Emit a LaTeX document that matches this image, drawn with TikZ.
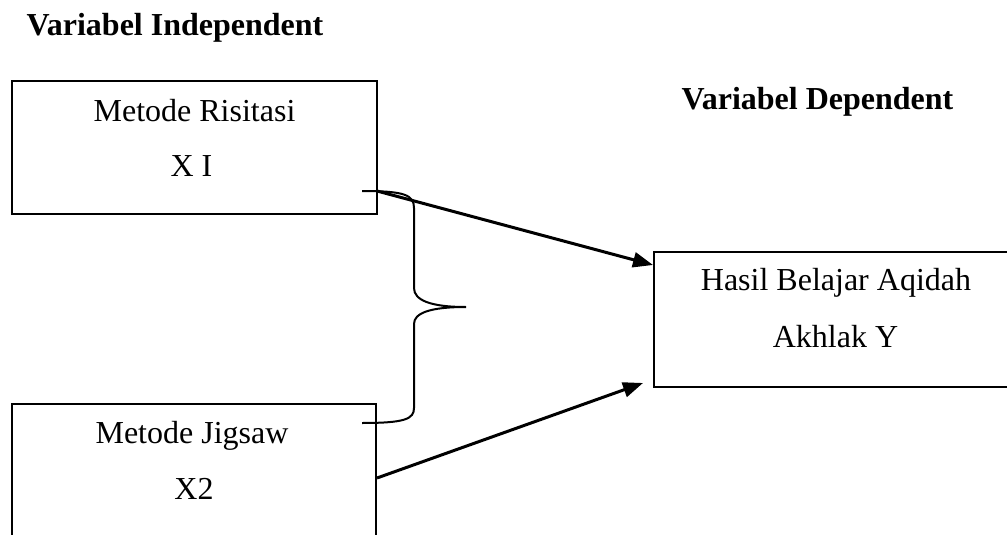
\documentclass[tikz,border=0pt]{standalone}
\usepackage{fontspec}
\setmainfont{Liberation Serif}
\usetikzlibrary{arrows.meta}
\begin{document}
\begin{tikzpicture}[x=1pt,y=-1pt,
  boxstyle/.style={draw=black,line width=2pt,rectangle,inner sep=0pt},
  txt/.style={anchor=base,inner sep=0pt,font=\fontsize{32}{38}\selectfont},
  ttl/.style={anchor=base,inner sep=0pt,font=\fontsize{32}{38}\selectfont\bfseries},
  arr/.style={line width=3pt,-{Triangle[length=20pt,width=15pt]}},
  bracestyle/.style={line width=2pt}]
\useasboundingbox (0,0) rectangle (1007,535);
\clip (0,0) rectangle (1007,535);
% boxes
\node[boxstyle,minimum width=365pt,minimum height=133pt] (box1) at (194.5,147.5) {};
\node[boxstyle,minimum width=364pt,minimum height=170pt] (box2) at (194,489) {};
\node[boxstyle,minimum width=380pt,minimum height=135.5pt] (box3) at (844,319.25) {};
% titles
\node[ttl] (t1) at (175,36) {Variabel Independent};
\node[ttl] (t2) at (817.5,110) {Variabel Dependent};
% box texts
\node[txt] (b1l1) at (194.5,121.7) {Metode Risitasi};
\node[txt] (b1l2) at (191.5,176.7) {X I};
\node[txt] (b2l1) at (192,443) {Metode Jigsaw};
\node[txt] (b2l2) at (194,499) {X2};
\node[txt] (b3l1) at (836,290) {Hasil Belajar Aqidah};
\node[txt] (b3l2) at (835.5,347) {Akhlak Y};
% brace
\coordinate (bt) at (362,191);
\coordinate (bb) at (362,423);
\coordinate (btip) at (466,307);
\draw[bracestyle] (bt) .. controls (405,191) and (414,195) .. (414,208)
  -- (414,288) .. controls (414,300) and (430,307) .. (btip)
  .. controls (430,307) and (414,313) .. (414,324)
  -- (414,408) .. controls (414,419) and (405,423) .. (bb);
% arrows
\coordinate (a1s) at (377,191);
\coordinate (a1e) at (653,265);
\coordinate (a2s) at (377,478);
\coordinate (a2e) at (643,383);
\draw[arr] (a1s) -- (a1e);
\draw[arr] (a2s) -- (a2e);
\end{tikzpicture}
\end{document}
